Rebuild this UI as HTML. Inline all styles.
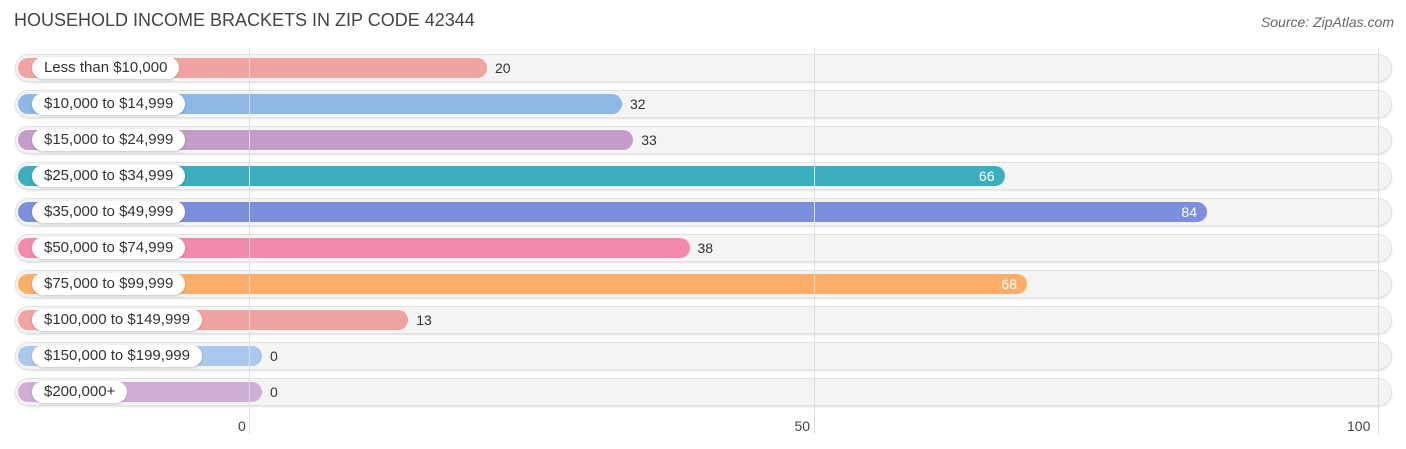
<!DOCTYPE html>
<html><head><meta charset="utf-8"><style>
body{margin:0;width:1406px;height:449px;background:#fff;font-family:"Liberation Sans",sans-serif;position:relative;overflow:hidden}
.t{position:absolute;left:14px;top:10px;font-size:18px;color:#444}
.s{position:absolute;right:12px;top:14px;font-size:14px;color:#666;font-style:italic}
.row{position:absolute;left:15px;width:1377px;height:28px;border-radius:14px;background:#f4f4f4;box-shadow:inset 0 0 0 1px #e2e2e2,0 1px 2px rgba(0,0,0,.12)}
.grid{position:absolute;top:48px;height:386px;width:1px;background:#ddd}
.bar{position:absolute;left:18px;height:20px;border-radius:10px}
.lab{position:absolute;left:32px;height:22px;line-height:22px;border-radius:11px;background:#fff;font-size:15px;color:#333;padding:0 12px;box-shadow:0 1px 2px rgba(0,0,0,.2)}
.val{position:absolute;font-size:14px;line-height:20px}
.tick{position:absolute;top:418px;font-size:14px;color:#444}
</style></head><body>
<div class="t">HOUSEHOLD INCOME BRACKETS IN ZIP CODE 42344</div>
<div class="s">Source: ZipAtlas.com</div>
<div id="c"></div>
<script>
const categories=["Less than $10,000","$10,000 to $14,999","$15,000 to $24,999","$25,000 to $34,999","$35,000 to $49,999","$50,000 to $74,999","$75,000 to $99,999","$100,000 to $149,999","$150,000 to $199,999","$200,000+"];
const values=[20,32,33,66,84,38,68,13,0,0];
const colors=["#f0a3a0","#8db8e6","#c39cc8","#3aaebd","#7c8fde","#f48aab","#fcae68","#f0a3a0","#a8c8ee","#cfaed6"];
const tickValues=[0,50,100];
const c=document.getElementById('c');
function x(v){return 262+v*11.25;}
function gx(v){return 249+v*11.29;}
tickValues.forEach(t=>{
 const g=document.createElement('div');g.className='grid';g.style.left=gx(t)+'px';
 
 
 document.body.appendChild(g);
});
categories.forEach((cat,i)=>{
 const cy=68+i*36;
 const r=document.createElement('div');r.className='row';r.style.top=(cy-14)+'px';
 
 
 c.appendChild(r);
 const b=document.createElement('div');b.className='bar';b.style.top=(cy-10)+'px';
 b.style.width=(x(values[i])-18)+'px';b.style.background=colors[i];
 
 
 c.appendChild(b);
 const l=document.createElement('div');l.className='lab';l.style.top=(cy-11)+'px';l.textContent=cat;
 
 
 c.appendChild(l);
 const v=document.createElement('div');v.className='val';v.style.top=(cy-10)+'px';v.textContent=values[i];
 
 
 if(values[i]>60){v.style.left=(x(values[i])-30)+'px';v.style.color='#fff';v.style.width='20px';v.style.textAlign='right';}
 else{v.style.left=(x(values[i])+8)+'px';v.style.color='#333';}
 c.appendChild(v);
});
tickValues.forEach(t=>{
 const k=document.createElement('div');k.className='tick';k.textContent=t;
 
 
 const w=t===100?28:(t===50?16:8);
 k.style.left=(gx(t)-w-3)+'px';
 document.body.appendChild(k);
});
</script>
</body></html>
